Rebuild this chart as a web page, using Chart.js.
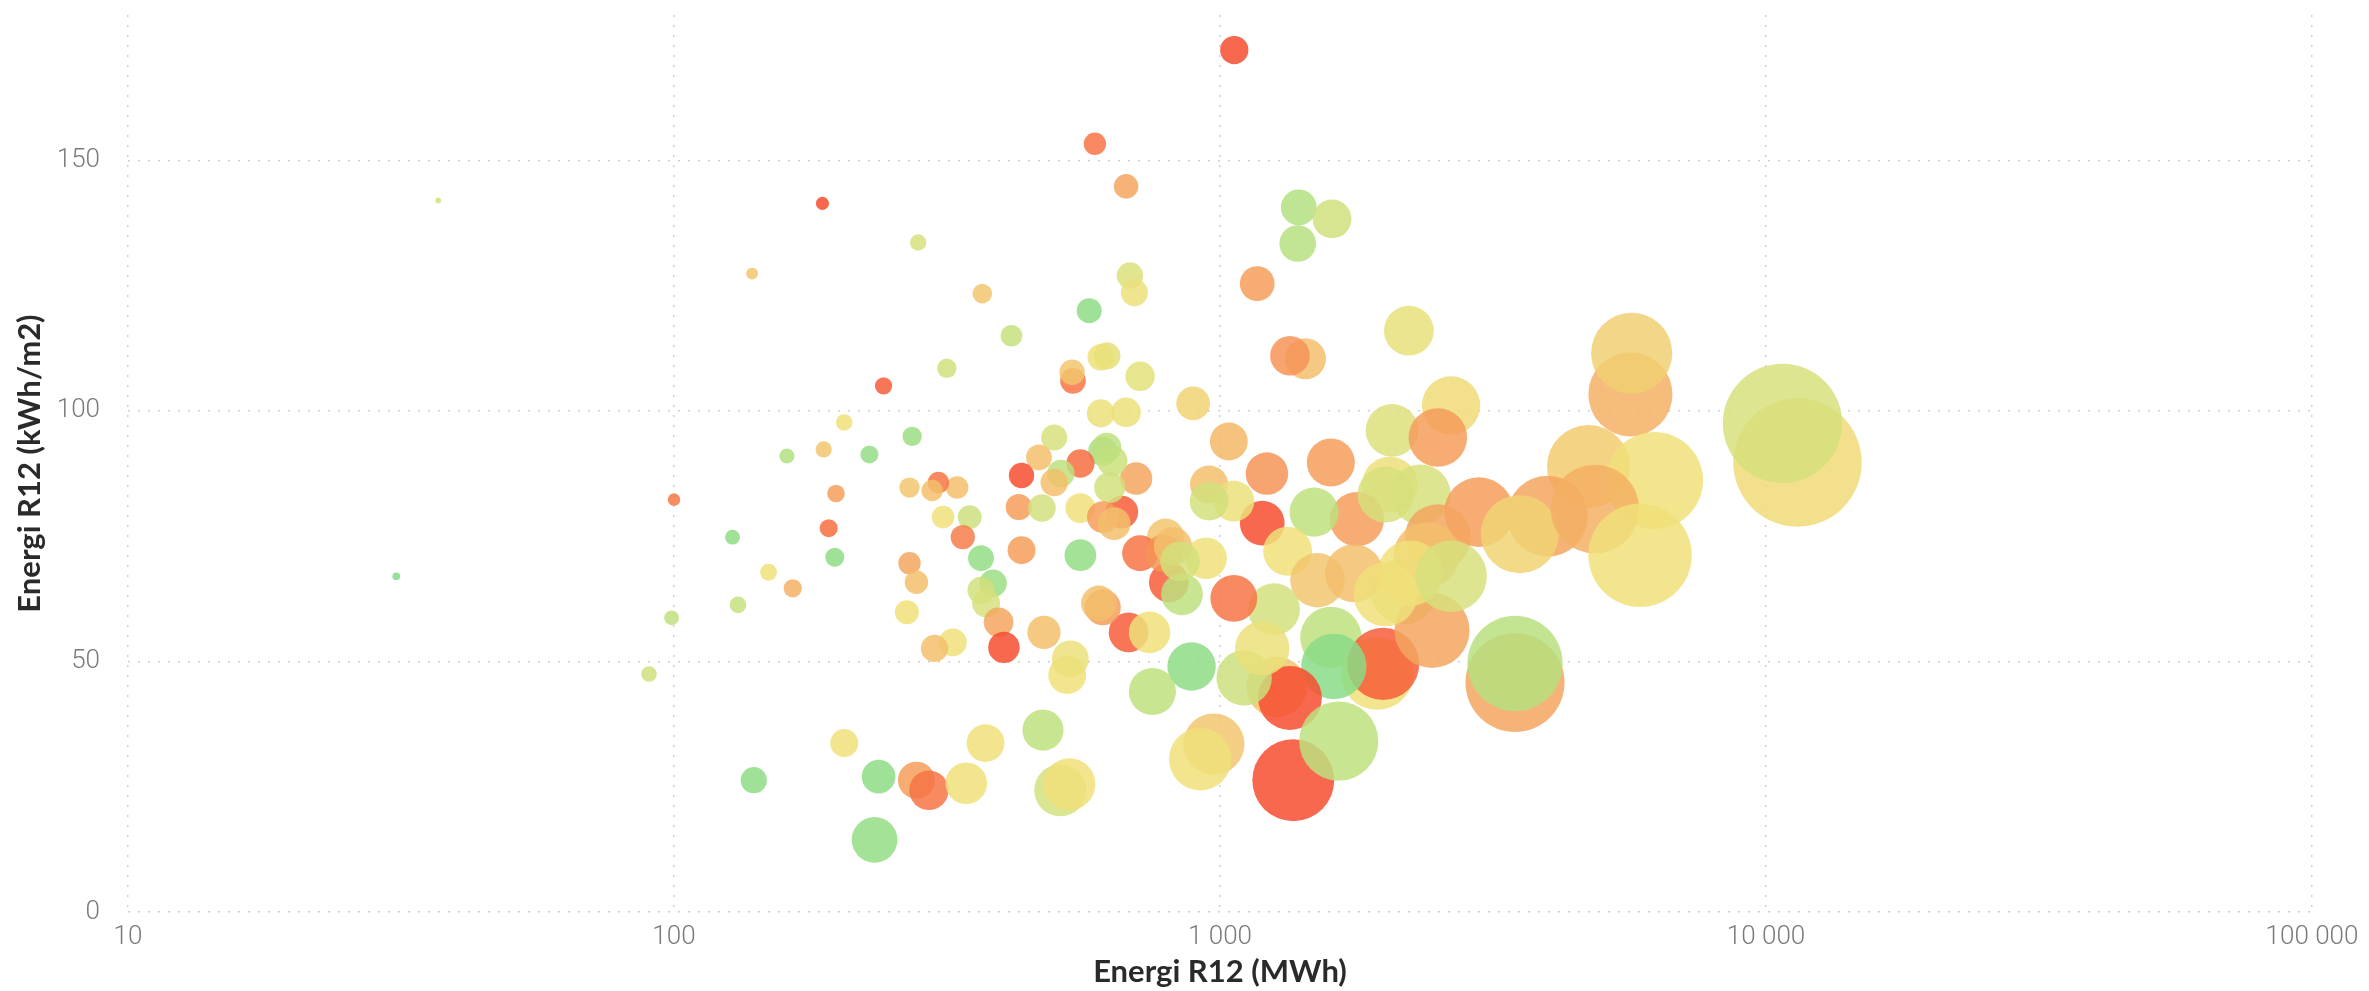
<!DOCTYPE html>
<html>
<head>
<meta charset="utf-8">
<script src="https://cdn.jsdelivr.net/npm/chart.js@4.4.0/dist/chart.umd.min.js"></script>
<style>
  html, body { margin: 0; padding: 0; background: #fff; }
  #wrap { width: 2369px; height: 991px; }
</style>
</head>
<body>
<div id="wrap"><canvas id="bubbleChart"></canvas></div>
<script>
// Energi R12 (MWh)
var energyMWh = [
  31, 37, 90, 99, 100, 128, 131, 149, 165, 161, 188, 197, 192, 198, 205, 228, 242, 273, 316, 415,
  576, 1062, 590, 673, 187, 280, 139, 367, 684, 697, 1170, 1394, 1604, 1388, 2218, 1434, 1343, 5645, 5675, 2650,
  2066, 2506, 893, 714, 621, 1038, 1596, 1219, 955, 2047, 2330, 4730, 6250, 11420, 10720, 2980, 3980, 3540, 4860, 5880,
  2506, 1782, 1195, 1487, 1330, 1508, 2170, 1256, 1060, 943, 795, 714, 806, 852, 680, 743, 610, 661, 702, 610,
  635, 1596, 1940, 1990, 1616, 1270, 1343, 1107, 887, 752, 1195, 2445, 3470, 3470, 1362, 1650, 974, 920, 605, 538,
  536, 605, 673, 497, 620, 466, 555, 433, 511, 628, 497, 1060, 955, 555, 610, 640, 428, 472, 330, 305,
  297, 270, 311, 348, 338, 365, 384, 365, 373, 393, 402, 270, 278, 267, 324, 300, 433, 555, 600, 476,
  525, 532, 789, 820, 845, 205, 140, 237, 278, 293, 343, 372, 474, 510, 530, 233, 2010, 2390, 2230, 2650,
  1760, 2010
];
// Energi R12 (kWh/m2)
var energyKWhM2 = [
  67, 142, 47.5, 58.7, 82.3, 74.8, 61.3, 67.8, 64.6, 91, 92.3, 70.8, 76.6, 83.5, 97.7, 91.3, 105, 94.9, 108.5, 115,
  120, 172, 153.3, 144.8, 141.4, 133.6, 127.4, 123.4, 127, 123.6, 125.4, 140.6, 138.3, 133.4, 116, 110.4, 111, 103.3, 111.5, 101.1,
  96.1, 94.7, 101.5, 106.9, 111, 93.9, 89.7, 87.5, 85.3, 85.3, 83.3, 88.9, 86.1, 89.7, 97.5, 79.8, 79, 75.4, 80.4, 71.2,
  74.8, 78.4, 77.6, 79.8, 72, 66.2, 64, 60.4, 62.6, 70.6, 74.8, 71.6, 65.8, 63.4, 55.8, 55.8, 60.8, 79.8, 86.5, 91.9,
  90, 54.8, 47.6, 49.5, 49, 44.9, 42.7, 46.7, 49, 44, 52.6, 56.2, 45.8, 49.6, 26.3, 34.1, 33.5, 30.5, 110.7, 106,
  107.7, 99.5, 99.7, 94.7, 92.7, 90.7, 89.5, 87.1, 87.5, 84.7, 85.7, 82, 82, 80.6, 78.8, 77.5, 80.8, 80.6, 84.7, 85.7,
  84.1, 84.7, 78.8, 78.8, 74.8, 70.6, 65.6, 64.2, 61.6, 57.8, 52.8, 69.6, 65.8, 59.8, 53.8, 52.6, 72.2, 71.2, 61.6, 55.8,
  47.3, 50.5, 71.6, 73, 70, 33.7, 26.3, 27, 26.3, 24.3, 25.7, 33.7, 36.3, 24.3, 25.5, 14.4, 83.3, 71.2, 67.6, 67,
  67.6, 63.4
];
// colour index, 0 = green ... 1 = red
var rating = [
  0.05, 0.37, 0.37, 0.3, 0.87, 0.1, 0.33, 0.5, 0.68, 0.25, 0.6, 0.1, 0.9, 0.75, 0.5, 0.12, 0.95, 0.15, 0.37, 0.33,
  0.1, 1.0, 0.88, 0.72, 1.0, 0.4, 0.6, 0.6, 0.42, 0.48, 0.75, 0.25, 0.37, 0.27, 0.47, 0.62, 0.78, 0.68, 0.56, 0.52,
  0.42, 0.75, 0.55, 0.45, 0.45, 0.65, 0.75, 0.78, 0.62, 0.48, 0.4, 0.58, 0.5, 0.52, 0.4, 0.75, 0.72, 0.55, 0.68, 0.5,
  0.72, 0.75, 1.0, 0.3, 0.5, 0.6, 0.4, 0.38, 0.88, 0.5, 0.6, 0.88, 0.95, 0.3, 0.95, 0.5, 0.75, 0.95, 0.72, 0.2,
  0.35, 0.3, 0.5, 0.95, 0.08, 0.6, 1.0, 0.35, 0.1, 0.3, 0.48, 0.72, 0.72, 0.28, 1.0, 0.3, 0.6, 0.5, 0.48, 0.88,
  0.6, 0.48, 0.48, 0.4, 0.3, 0.62, 0.9, 1.0, 0.3, 0.38, 0.62, 0.48, 0.38, 0.5, 0.75, 0.62, 0.75, 0.38, 0.62, 0.88,
  0.62, 0.6, 0.5, 0.35, 0.85, 0.12, 0.15, 0.38, 0.4, 0.72, 1.0, 0.72, 0.62, 0.5, 0.5, 0.62, 0.75, 0.12, 0.62, 0.62,
  0.5, 0.48, 0.78, 0.62, 0.38, 0.5, 0.1, 0.1, 0.75, 0.88, 0.5, 0.5, 0.3, 0.38, 0.5, 0.12, 0.4, 0.62, 0.5, 0.4,
  0.62, 0.5
];
var xTicks = [10, 100, 1000, 10000, 100000];
var yTicks = [0, 50, 100, 150];

// green -> yellow -> red
var stops = [
  [0, [120, 218, 138]],
  [0.25, [178, 224, 128]],
  [0.5, [240, 224, 122]],
  [0.75, [246, 158, 92]],
  [1, [247, 78, 48]]
];
function ratingColor(v) {
  for (var i = 1; i < stops.length; i++) {
    if (v <= stops[i][0]) {
      var a = stops[i - 1], b = stops[i];
      var t = (v - a[0]) / (b[0] - a[0]);
      var c = a[1].map(function(ch, k) { return Math.round(ch + (b[1][k] - ch) * t); });
      return 'rgba(' + c[0] + ',' + c[1] + ',' + c[2] + ',0.85)';
    }
  }
  return 'rgba(247,78,48,0.85)';
}

// bubble area follows the heated area (m2) = MWh * 1000 / (kWh/m2)
function bubbleRadius(mwh, kwhm2) {
  var area = mwh * 1000 / kwhm2;
  return 0.18 * Math.sqrt(area);
}

function formatNumber(v) {
  return String(v).replace(/\B(?=(\d{3})+(?!\d))/g, ' ');
}

var points = energyMWh.map(function(x, i) {
  return { x: x, y: energyKWhM2[i], r: bubbleRadius(x, energyKWhM2[i]) };
});
var colors = rating.map(ratingColor);

var tickFont = { family: 'Roboto', size: 26, weight: '300' };
var titleFont = { family: 'Lato', size: 31, weight: 'bold' };

var ctx = document.getElementById('bubbleChart').getContext('2d');
var chart = new Chart(ctx, {
  type: 'bubble',
  data: {
    datasets: [{
      data: points,
      backgroundColor: colors,
      borderWidth: 0,
      hoverBorderWidth: 0
    }]
  },
  options: {
    responsive: true,
    maintainAspectRatio: false,
    animation: false,
    layout: { autoPadding: false, padding: { top: 15, right: 57, left: 11, bottom: 0 } },
    plugins: {
      legend: { display: false },
      tooltip: { enabled: false }
    },
    scales: {
      x: {
        type: 'logarithmic',
        min: 10,
        max: 100000,
        afterBuildTicks: function(axis) {
          axis.ticks = xTicks.map(function(v) { return { value: v }; });
        },
        afterFit: function(axis) {
          axis.height = 79;
          axis.paddingLeft = 0;
          axis.paddingRight = 0;
        },
        ticks: {
          color: '#7a7a7a',
          font: tickFont,
          padding: 10,
          maxRotation: 0,
          callback: function(v) { return formatNumber(v); }
        },
        grid: { color: '#cfcfcf', lineWidth: 1.5, drawTicks: false },
        border: { display: false, dash: [2, 8] },
        title: {
          display: true,
          text: 'Energi R12 (MWh)',
          color: '#2a2a2a',
          font: titleFont,
          padding: { top: 0, bottom: 0 }
        }
      },
      y: {
        min: 0,
        max: 179,
        afterBuildTicks: function(axis) {
          axis.ticks = yTicks.map(function(v) { return { value: v }; });
        },
        afterFit: function(axis) {
          axis.width = 117;
          axis.paddingTop = 0;
          axis.paddingBottom = 0;
        },
        ticks: {
          color: '#7a7a7a',
          font: tickFont,
          padding: 28
        },
        grid: { color: '#cfcfcf', lineWidth: 1.5, drawTicks: false },
        border: { display: false, dash: [2, 8] },
        title: {
          display: true,
          text: 'Energi R12 (kWh/m2)',
          color: '#2a2a2a',
          font: titleFont,
          padding: { top: 0, bottom: 8 }
        }
      }
    }
  }
});
</script>
</body>
</html>
